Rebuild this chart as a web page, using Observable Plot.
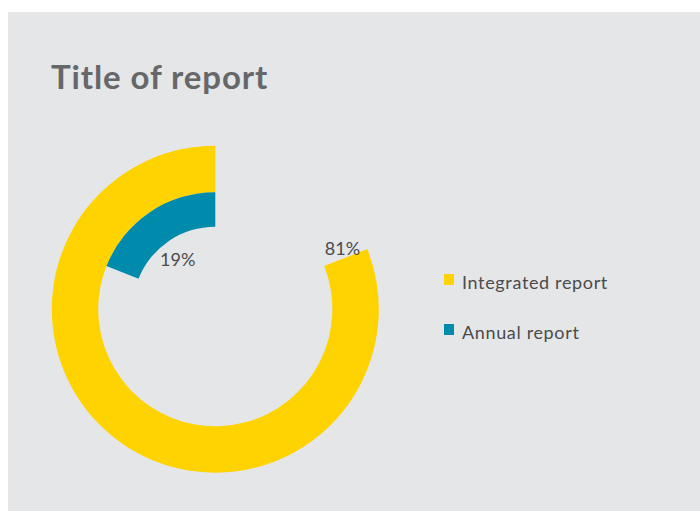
<!DOCTYPE html>
<html>
<head>
<meta charset="utf-8">
<script src="https://cdn.jsdelivr.net/npm/d3@7"></script>
<script src="https://cdn.jsdelivr.net/npm/@observablehq/plot@0.6"></script>
<style>
  html, body { margin: 0; padding: 0; background: #ffffff; }
  #wrap { position: relative; width: 700px; height: 511px; overflow: hidden; }
  #panel { position: absolute; left: 8px; top: 12px; right: 0; bottom: 0; background: #e5e6e8; }
  #title { position: absolute; left: 51px; top: 56px; font-family: Lato, sans-serif; font-weight: 700;
           font-size: 33px; letter-spacing: 0.9px; color: #666769; line-height: 40px; white-space: nowrap; }
  #chart { position: absolute; left: 0; top: 120px; }
  .leg { position: absolute; left: 444px; font-family: Lato, sans-serif; font-size: 18px; color: #4a4b4d;
         white-space: nowrap; line-height: 22px; letter-spacing: 0.65px; }
  .leg i { position: absolute; left: 0; top: 5px; width: 10px; height: 11px; }
  .leg span { position: absolute; left: 18px; top: 2px; }
</style>
</head>
<body>
<div id="wrap">
  <div id="panel"></div>
  <div id="title">Title of report</div>
  <div id="chart"></div>
  <div id="legend"></div>
</div>
<script>
// ---- data ----
const categories = ["Integrated report", "Annual report"];
const shares = [81, 19];
const labels = ["81%", "19%"];
const colors = ["#ffd300", "#008bad"];

// ---- layout (geometry, not data) ----
const ringOuter = [1.0, 0.716];     // in scale units (outer radius = 1)
const ringInner = [0.716, 0.505];
const labelRadius = [0.86, 0.38];
const labelSweep = [1.014, 0.553];  // fraction of arc sweep where label sits

const rows = categories.map((c, i) => ({
  category: c, share: shares[i], label: labels[i], color: colors[i],
  r0: ringInner[i], r1: ringOuter[i]
}));
rows.forEach((d, i) => {
  const a = -(d.share / 100) * 2 * Math.PI * labelSweep[i]; // counter-clockwise from 12 o'clock
  d.lx = labelRadius[i] * Math.sin(a);
  d.ly = labelRadius[i] * Math.cos(a);
});

const cx = 215.3, cy = 189.2, R = 163.5;

const ringMark = (index, scales) => {
  const ox = scales.x(0), oy = scales.y(0);
  const unit = scales.x(1) - scales.x(0);
  const arc = d3.arc();
  const g = d3.create("svg:g").attr("transform", `translate(${ox},${oy})`);
  g.selectAll("path").data(rows).join("path")
    .attr("fill", d => scales.color(d.category))
    .attr("d", d => arc({
      innerRadius: d.r0 * unit, outerRadius: d.r1 * unit,
      startAngle: 0, endAngle: -(d.share / 100) * 2 * Math.PI
    }));
  return g.node();
};

const chart = Plot.plot({
  width: 420,
  height: 380,
  margin: 0,
  style: { background: "transparent", overflow: "visible" },
  x: { domain: [-1, 1], range: [cx - R, cx + R], axis: null },
  y: { domain: [-1, 1], range: [cy + R, cy - R], axis: null },
  color: { domain: categories, range: colors },
  marks: [
    ringMark,
    Plot.text(rows, {
      x: "lx", y: "ly", text: "label",
      fontSize: 18, fontFamily: "Lato, sans-serif", fill: "#4a4b4d",
      textAnchor: "middle", lineAnchor: "middle"
    })
  ]
});
document.getElementById("chart").appendChild(chart);

// legend
const legTops = [269, 319];
const leg = document.getElementById("legend");
categories.forEach((c, i) => {
  const div = document.createElement("div");
  div.className = "leg";
  div.style.top = legTops[i] + "px";
  div.innerHTML = `<i style="background:${colors[i]}"></i><span>${c}</span>`;
  leg.appendChild(div);
});
</script>
</body>
</html>
